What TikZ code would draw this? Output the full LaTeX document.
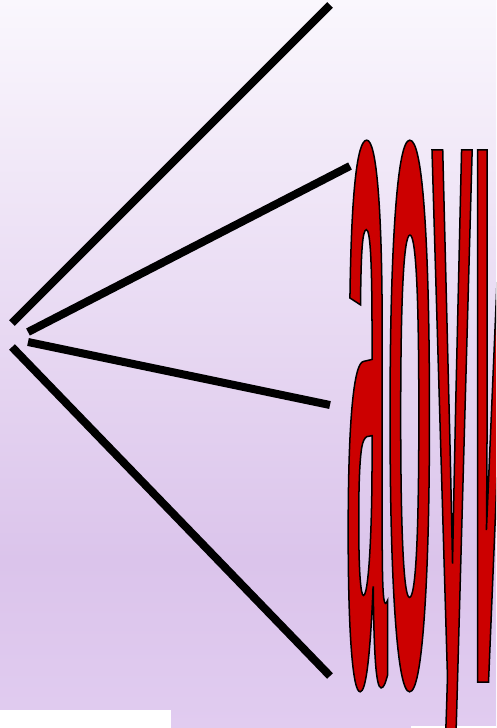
\documentclass[tikz,border=0pt]{standalone}
\usepackage{fontspec}
\newfontfamily\wafont{Liberation Sans}[FakeStretch=0.0735]
\definecolor{bgtop}{HTML}{FAF7FD}
\definecolor{bgmid}{HTML}{DBC4EB}
\definecolor{bgbot}{HTML}{E1CCF0}
\definecolor{wared}{HTML}{CC0000}
\newcommand\outlinedtext[1]{\special{pdf:literal direct 2 Tr 1.5 w 0 0 0 RG}#1\special{pdf:literal direct 0 Tr}}
\tikzset{
  ray/.style={line width=8pt, black},
  wordart/.style={inner sep=0pt, outer sep=0pt, anchor=base west, text=wared, font=\wafont\bfseries\fontsize{1007}{1007}\selectfont}
}
\begin{document}
\begin{tikzpicture}[x=1pt,y=-1pt]
\useasboundingbox (0,0) rectangle (496,728);
\clip (0,0) rectangle (496,728);
\shade[top color=bgtop, bottom color=bgmid] (0,0) rectangle (496,560);
\shade[top color=bgmid, bottom color=bgbot] (0,560) rectangle (496,728);
\fill[white] (0,710) rectangle (171,728);
\fill[white] (411,726) rectangle (496,728);
\coordinate (s1) at (12,323);
\coordinate (s2) at (28,332);
\coordinate (s3) at (28,342);
\coordinate (s4) at (12,347);
\coordinate (e1) at (330,5);
\coordinate (e2) at (350,166);
\coordinate (e3) at (330,405);
\coordinate (e4) at (330,676);
\draw[ray] (s1) -- (e1);
\draw[ray] (s2) -- (e2);
\draw[ray] (s3) -- (e3);
\draw[ray] (s4) -- (e4);
\node[wordart] (word) at (346,682) {\outlinedtext{аоуи}};
\end{tikzpicture}
\end{document}
